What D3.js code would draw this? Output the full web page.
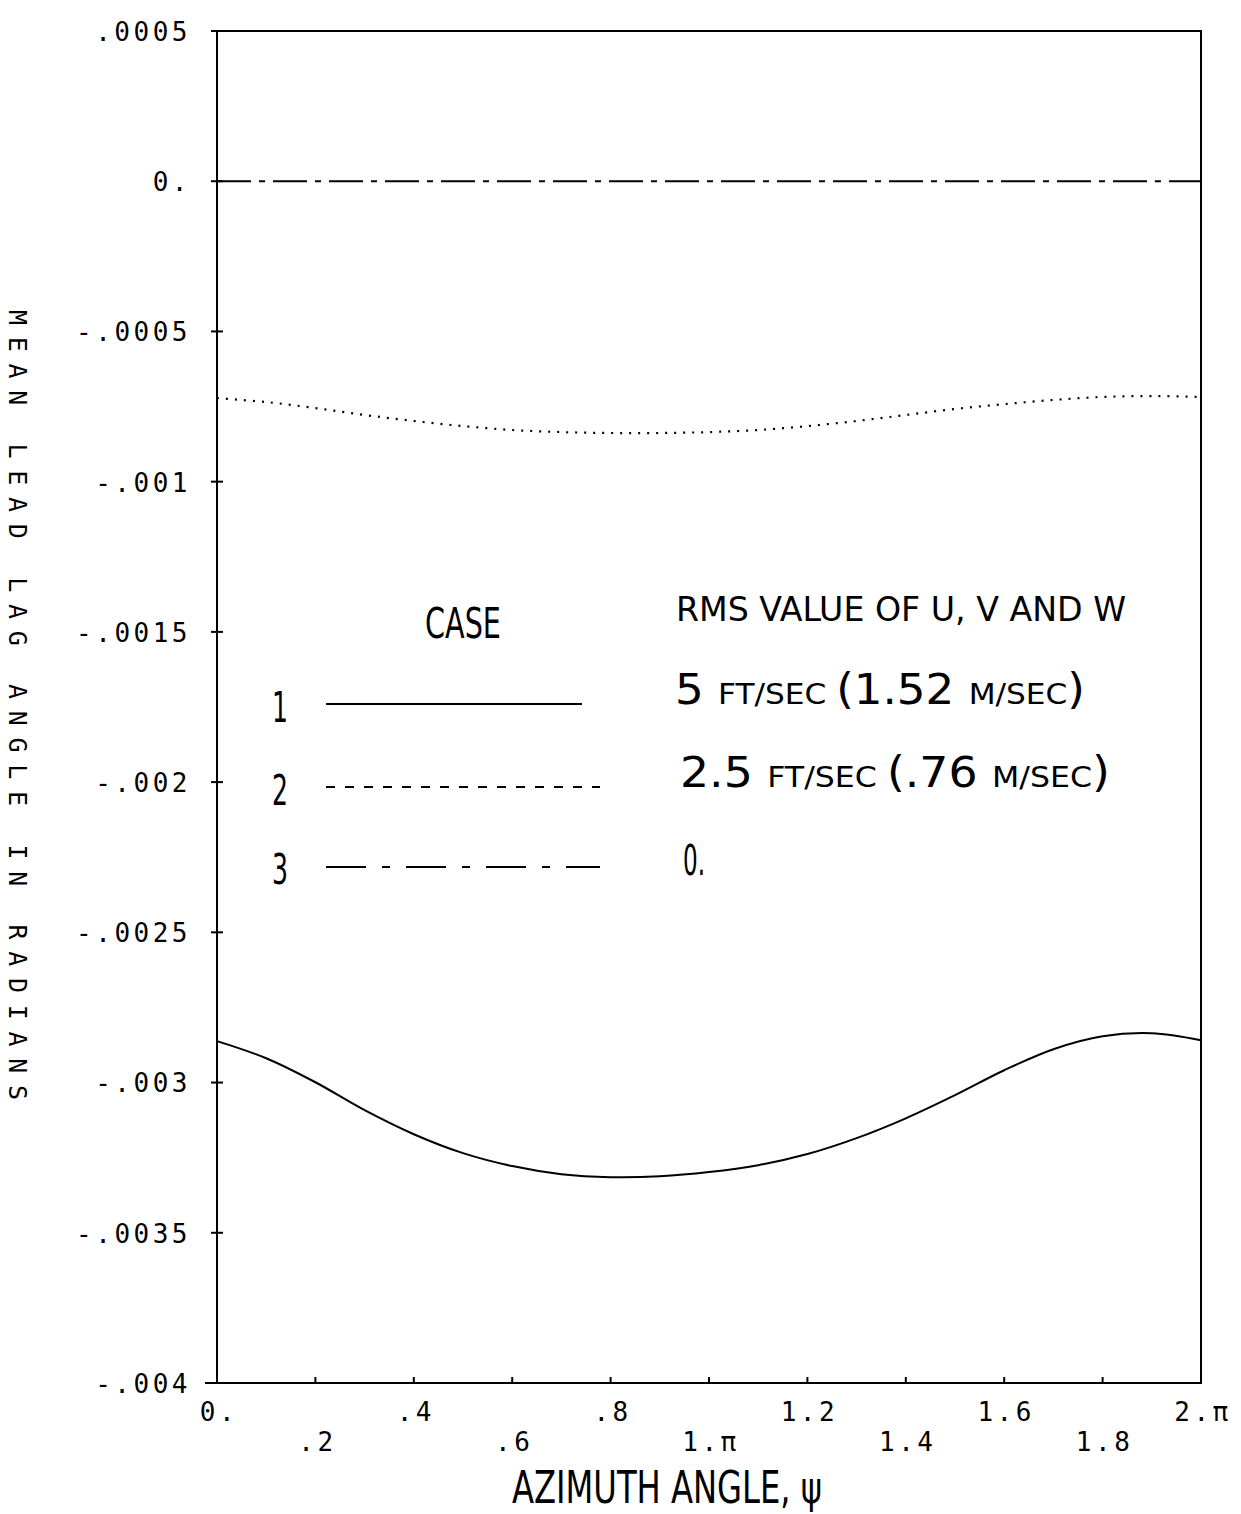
<!DOCTYPE html>
<html>
<head>
<meta charset="utf-8">
<script src="https://cdn.jsdelivr.net/npm/d3@7"></script>
<style>
  html, body { margin: 0; padding: 0; background: #fff; }
  svg { display: block; }
</style>
</head>
<body>
<svg id="chart" width="1241" height="1514"></svg>
<script>
// ---------- DATA ----------
// azimuth angle in units of pi
const azimuth = [0, 0.1, 0.2, 0.3, 0.4, 0.5, 0.6, 0.7, 0.8, 0.9, 1.0,
                 1.1, 1.2, 1.3, 1.4, 1.5, 1.6, 1.7, 1.8, 1.9, 2.0];
// Case 1: 5 ft/sec (1.52 m/sec)
const case1 = [-0.002862, -0.002919, -0.002999, -0.003092, -0.003172, -0.003235,
               -0.003278, -0.003305, -0.003315, -0.003312, -0.003298, -0.003275,
               -0.003238, -0.003185, -0.003119, -0.003042, -0.002959, -0.002889,
               -0.002846, -0.002836, -0.002859];
// Case 2: 2.5 ft/sec (.76 m/sec)
const case2 = [-0.000722, -0.000735, -0.000755, -0.000778, -0.000798, -0.000815,
               -0.000828, -0.000835, -0.000838, -0.000838, -0.000835, -0.000828,
               -0.000815, -0.000798, -0.000778, -0.000758, -0.000742, -0.000728,
               -0.000718, -0.000715, -0.000718];
// Case 3: 0.
const case3 = [0, 0, 0, 0, 0, 0, 0, 0, 0, 0, 0, 0, 0, 0, 0, 0, 0, 0, 0, 0, 0];

const yTicks = [0.0005, 0, -0.0005, -0.001, -0.0015, -0.002, -0.0025, -0.003, -0.0035, -0.004];
const yTickLabels = [".0005", "0.", "-.0005", "-.001", "-.0015", "-.002", "-.0025", "-.003", "-.0035", "-.004"];
const xTicks = [0, 0.2, 0.4, 0.6, 0.8, 1.0, 1.2, 1.4, 1.6, 1.8, 2.0];
const xTickLabels = ["0.", ".2", ".4", ".6", ".8", "1.π", "1.2", "1.4", "1.6", "1.8", "2.π"];

const legendCases = ["1", "2", "3"];
const legendTitle = "CASE";
const legendHeader = "RMS VALUE OF U, V AND W";
const xTitle = "AZIMUTH ANGLE, ψ";
const yTitle = "MEAN LEAD LAG ANGLE IN RADIANS";

// ---------- CHART ----------
const svg = d3.select("#chart");
const L = 217, R = 1201, T = 31, B = 1383;
const x = d3.scaleLinear().domain([0, 2]).range([L, R]);
const y = d3.scaleLinear().domain([0.0005, -0.004]).range([T, B]);

const mono = "'DejaVu Sans Mono', monospace";
const cond = "'DejaVu Sans Condensed', 'DejaVu Sans', sans-serif";

svg.append("rect").attr("width", 1241).attr("height", 1514).attr("fill", "#fff");

// frame
svg.append("rect").attr("x", L).attr("y", T).attr("width", R - L).attr("height", B - T)
  .attr("fill", "none").attr("stroke", "#000").attr("stroke-width", 2);

// y axis ticks + labels
const yAxis = d3.axisLeft(y).tickValues(yTicks).tickSize(0)
  .tickFormat((d, i) => yTickLabels[i]);
const gy = svg.append("g").attr("transform", `translate(${L},0)`).call(yAxis);
gy.select(".domain").remove();
gy.selectAll("text").attr("x", -26).attr("dy", "0.36em")
  .attr("font-family", mono).attr("font-size", 26).attr("letter-spacing", 3.5)
  .attr("fill", "#000");
svg.append("g").selectAll("line").data(yTicks).join("line")
  .attr("x1", L - 6).attr("x2", L + 6)
  .attr("y1", d => y(d)).attr("y2", d => y(d))
  .attr("stroke", "#000").attr("stroke-width", 2);
// corner extensions
svg.append("line").attr("x1", L).attr("x2", L + 12).attr("y1", T).attr("y2", T)
  .attr("stroke", "#000").attr("stroke-width", 2);
svg.append("line").attr("x1", L - 12).attr("x2", L).attr("y1", B).attr("y2", B)
  .attr("stroke", "#000").attr("stroke-width", 2);

// x axis ticks + labels (alternating rows)
svg.append("g").selectAll("line").data(xTicks).join("line")
  .attr("x1", d => x(d)).attr("x2", d => x(d))
  .attr("y1", B).attr("y2", B - 6)
  .attr("stroke", "#000").attr("stroke-width", 2);
svg.append("g").selectAll("text").data(xTicks).join("text")
  .attr("x", d => x(d) + 2)
  .attr("y", (d, i) => i % 2 === 0 ? 1421 : 1451)
  .attr("text-anchor", "middle")
  .attr("font-family", mono).attr("font-size", 26).attr("letter-spacing", 3.5)
  .attr("fill", "#000")
  .text((d, i) => xTickLabels[i]);

// lines
const line = d3.line().x((d, i) => x(azimuth[i])).y(d => y(d)).curve(d3.curveCatmullRom);
svg.append("path").datum(case3).attr("d", line)
  .attr("fill", "none").attr("stroke", "#000").attr("stroke-width", 2)
  .attr("stroke-dasharray", "34,8,6,8");
svg.append("path").datum(case2).attr("d", line)
  .attr("fill", "none").attr("stroke", "#000").attr("stroke-width", 2.2)
  .attr("stroke-dasharray", "2,7");
svg.append("path").datum(case1).attr("d", line)
  .attr("fill", "none").attr("stroke", "#000").attr("stroke-width", 2);

// legend
const lg = svg.append("g").attr("fill", "#000");
lg.append("text").attr("x", 425).attr("y", 638).attr("font-family", cond)
  .attr("font-size", 42).attr("textLength", 76).attr("lengthAdjust", "spacingAndGlyphs")
  .text(legendTitle);
lg.append("text").attr("x", 676).attr("y", 621).attr("font-family", cond)
  .attr("font-size", 32).attr("textLength", 450).attr("lengthAdjust", "spacingAndGlyphs")
  .attr("transform", "translate(676,621) scale(1,1.05) translate(-676,-621)")
  .text(legendHeader);

const legY = [704, 787, 867];
const legBase = [722, 805, 884];
const legStyle = [null, "9,10", "40,16,8,16"];
const legX2 = [582, 600, 600];
legendCases.forEach((c, i) => {
  lg.append("text").attr("x", 272).attr("y", legBase[i]).attr("font-family", cond)
    .attr("font-size", 42).attr("textLength", 16).attr("lengthAdjust", "spacingAndGlyphs").text(c);
  const ln = lg.append("line").attr("x1", 326).attr("x2", legX2[i])
    .attr("y1", legY[i]).attr("y2", legY[i])
    .attr("stroke", "#000").attr("stroke-width", 2);
  if (legStyle[i]) ln.attr("stroke-dasharray", legStyle[i]);
});

function valueText(xp, yp, len, parts) {
  const t = lg.append("text").attr("x", xp).attr("y", yp).attr("font-family", cond)
    .attr("textLength", len).attr("lengthAdjust", "spacingAndGlyphs");
  parts.forEach(([s, size]) => t.append("tspan").attr("font-size", size).text(s));
  return t;
}
valueText(675, 704, 410, [["5 ", 42], ["FT/SEC ", 29], ["(1.52 ", 42], ["M/SEC", 29], [")", 42]]);
valueText(680, 787, 430, [["2.5 ", 42], ["FT/SEC ", 29], ["(.76 ", 42], ["M/SEC", 29], [")", 42]]);
lg.append("text").attr("x", 683).attr("y", 875).attr("font-family", cond)
  .attr("font-size", 42).attr("textLength", 22).attr("lengthAdjust", "spacingAndGlyphs").text("0.");

// axis titles
svg.append("text").attr("x", 667).attr("y", 1503).attr("text-anchor", "middle")
  .attr("font-family", cond).attr("font-size", 44)
  .attr("textLength", 310).attr("lengthAdjust", "spacingAndGlyphs")
  .text(xTitle);
svg.append("text")
  .attr("transform", "translate(9,310) rotate(90)")
  .attr("font-family", mono).attr("font-size", 25)
  .attr("textLength", 790).attr("lengthAdjust", "spacing")
  .attr("fill", "#000")
  .text(yTitle);
</script>
</body>
</html>
